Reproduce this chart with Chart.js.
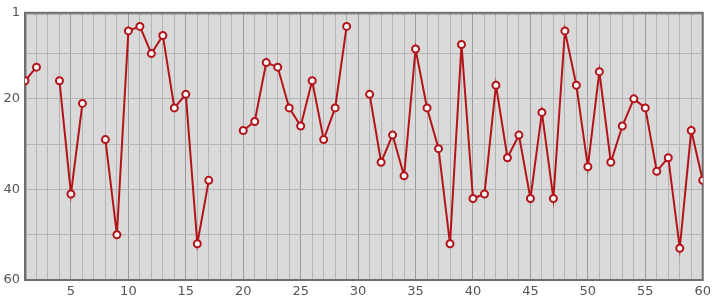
<!DOCTYPE html>
<html>
<head>
<meta charset="utf-8">
<script src="https://cdn.jsdelivr.net/npm/chart.js@4"></script>
<style>
  html, body { margin: 0; padding: 0; background: #ffffff; }
  #wrap { width: 715px; height: 300px; }
</style>
</head>
<body>
<div id="wrap"><canvas id="chart" width="715" height="300"></canvas></div>
<script>
// Position on the x axis, one per sample (null values are gaps in the line).
var positions = [
    1, 2, 3, 4, 5, 6, 7, 8, 9, 10,
    11, 12, 13, 14, 15, 16, 17, 18, 19, 20,
    21, 22, 23, 24, 25, 26, 27, 28, 29, 30,
    31, 32, 33, 34, 35, 36, 37, 38, 39, 40,
    41, 42, 43, 44, 45, 46, 47, 48, 49, 50,
    51, 52, 53, 54, 55, 56, 57, 58, 59, 60
];
var ranks = [
    16, 13, null, 16, 41, 21, null, 29, 50, 5,
    4, 10, 6, 22, 19, 52, 38, null, null, 27,
    25, 12, 13, 22, 26, 16, 29, 22, 4, null,
    19, 34, 28, 37, 9, 22, 31, 52, 8, 42,
    41, 17, 33, 28, 42, 23, 42, 5, 17, 35,
    14, 34, 26, 20, 22, 36, 33, 53, 27, 38
];
var yGridValues = [1, 10, 20, 30, 40, 50, 60];
var yTickLabels = [1, 20, 40, 60];
var xTickLabels = [5, 10, 15, 20, 25, 30, 35, 40, 45, 50, 55, 60];

var LINE = '#b2141a';
var PLOT_BG = '#d9d9d9';
var GRID = '#b4b4b4';
var GRID_MAJOR = '#9a9a9a';
var TICK = '#555555';

var plotFrame = {
    id: 'plotFrame',
    beforeDraw: function (chart) {
        var a = chart.chartArea, ctx = chart.ctx;
        ctx.save();
        ctx.fillStyle = PLOT_BG;
        ctx.fillRect(a.left, a.top, a.right - a.left, a.bottom - a.top);
        ctx.restore();
    },
    beforeDatasetsDraw: function (chart) {
        var a = chart.chartArea, ctx = chart.ctx;
        ctx.save();
        ctx.strokeStyle = '#6e6e6e';
        ctx.lineWidth = 2;
        ctx.strokeRect(a.left, a.top, a.right - a.left, a.bottom - a.top);
        ctx.strokeStyle = 'rgba(110,110,110,0.45)';
        ctx.lineWidth = 1;
        ctx.beginPath();
        ctx.moveTo(a.left + 1.5, a.bottom);
        ctx.lineTo(a.left + 1.5, a.top + 1.5);
        ctx.lineTo(a.right, a.top + 1.5);
        ctx.stroke();
        ctx.restore();
    }
};

var points = positions.map(function (x, i) { return { x: x, y: ranks[i] }; });

new Chart(document.getElementById('chart').getContext('2d'), {
    type: 'line',
    data: {
        datasets: [{
            data: points,
            borderColor: LINE,
            borderWidth: 2,
            pointRadius: 3.5,
            pointBorderWidth: 2,
            pointBackgroundColor: '#f7f7f7',
            pointBorderColor: LINE,
            spanGaps: false,
            tension: 0
        }]
    },
    options: {
        responsive: false,
        animation: false,
        layout: { padding: { top: 8, right: 9, left: 0, bottom: 0 } },
        plugins: { legend: { display: false }, tooltip: { enabled: false } },
        scales: {
            x: {
                type: 'linear',
                min: 1,
                max: 60,
                afterFit: function (s) { s.height = 20; },
                afterBuildTicks: function (s) {
                    s.ticks = positions.map(function (v) { return { value: v }; });
                },
                border: { display: false },
                grid: {
                    drawTicks: false,
                    color: function (c) {
                        return xTickLabels.indexOf(c.tick.value) >= 0 ? GRID_MAJOR : GRID;
                    }
                },
                ticks: {
                    autoSkip: false,
                    maxRotation: 0,
                    padding: 4,
                    color: TICK,
                    font: { family: 'DejaVu Sans', size: 13 },
                    callback: function (v) {
                        return xTickLabels.indexOf(v) >= 0 ? String(v) : '';
                    }
                }
            },
            y: {
                type: 'linear',
                reverse: true,
                min: 1,
                max: 60,
                afterFit: function (s) { s.width = 25; },
                afterBuildTicks: function (s) {
                    s.ticks = yGridValues.map(function (v) { return { value: v }; });
                },
                border: { display: false },
                grid: { drawTicks: false, color: GRID },
                ticks: {
                    autoSkip: false,
                    padding: 5,
                    color: TICK,
                    font: { family: 'DejaVu Sans', size: 13 },
                    callback: function (v) {
                        return yTickLabels.indexOf(v) >= 0 ? String(v) : '';
                    }
                }
            }
        }
    },
    plugins: [plotFrame]
});
</script>
</body>
</html>
